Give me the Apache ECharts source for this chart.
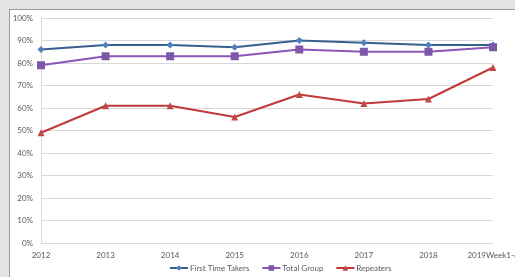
<!DOCTYPE html>
<html>
<head>
<meta charset="utf-8">
<script src="https://cdn.jsdelivr.net/npm/echarts@6/dist/echarts.min.js"></script>
<style>
  html, body { margin: 0; padding: 0; background: #e3e3e3; }
  #panel { position: absolute; left: 9px; top: 9px; width: 506px; height: 268px; background: #fff;
           border-left: 1px solid #9a9a9a; border-top: 1px solid #9a9a9a; }
  #main { position: absolute; left: 0; top: 0; width: 515px; height: 277px; }
</style>
</head>
<body>
<div id="panel"></div>
<div id="main"></div>
<script>
var years = ['2012', '2013', '2014', '2015', '2016', '2017', '2018', '2019Week1-6']
var firstTime = [86, 88, 88, 87, 90, 89, 88, 88]
var totalGroup = [79, 83, 83, 83, 86, 85, 85, 87]
var repeaters = [49, 61, 61, 56, 66, 62, 64, 78]

var font = 'Lato, "Open Sans", sans-serif'
var myChart = echarts.init(document.getElementById('main'))

function line (name, data, lineColor, markColor, symbol, size) {
  return {
    name: name,
    type: 'line',
    data: data,
    symbol: symbol,
    symbolSize: size,
    showSymbol: true,
    animation: false,
    lineStyle: { color: lineColor, width: 2 },
    itemStyle: { color: markColor, borderWidth: 0 }
  }
}

var option = {
  animation: false,
  grid: { left: 41, right: 22, top: 18, bottom: 34, containLabel: false, outerBoundsMode: 'none' },
  legend: {
    bottom: 0,
    left: 164,
    itemWidth: 18,
    itemHeight: 7,
    itemGap: 12,
    textStyle: { fontFamily: font, fontSize: 8, color: '#595959', padding: [0, 0, 0, -3] },
    data: ['First Time Takers', 'Total Group', 'Repeaters']
  },
  xAxis: {
    type: 'category',
    data: years,
    boundaryGap: false,
    axisLine: { lineStyle: { color: '#d9d9d9' } },
    axisTick: { show: false },
    axisLabel: { fontFamily: font, fontSize: 8, color: '#595959', margin: 8, showMaxLabel: true, hideOverlap: false, interval: 0 }
  },
  yAxis: {
    type: 'value',
    min: 0,
    max: 100,
    interval: 10,
    axisLine: { show: true, lineStyle: { color: '#d9d9d9' } },
    axisTick: { show: false },
    splitLine: { lineStyle: { color: '#d9d9d9', width: 1 } },
    axisLabel: { fontFamily: font, fontSize: 8, color: '#595959', margin: 8, formatter: '{value}%' }
  },
  series: [
    line('First Time Takers', firstTime, '#36618f', '#4f81bd', 'diamond', 7),
    line('Total Group', totalGroup, '#8a56b8', '#7e57a8', 'rect', 8),
    line('Repeaters', repeaters, '#c0393b', '#be4b48', 'triangle', 7)
  ]
}

myChart.setOption(option)
</script>
</body>
</html>
